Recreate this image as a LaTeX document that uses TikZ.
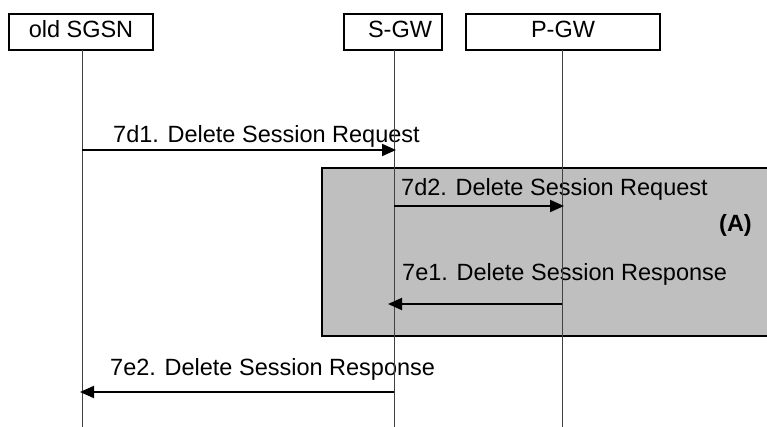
\documentclass[tikz,border=0pt]{standalone}
\usepackage{fontspec}
\setmainfont{Liberation Sans}
\usetikzlibrary{arrows.meta}
\begin{document}
\begin{tikzpicture}[x=1pt,y=-1pt,
  every node/.style={font=\fontsize{23.5}{28}\selectfont, inner sep=0pt},
  entity/.style={draw, line width=1.5pt, minimum height=36pt},
  lifeline/.style={line width=1pt, draw=black!75},
  msg/.style={line width=2pt, -{Triangle[length=14pt,width=12pt]}},
  lbl/.style={anchor=base west},
  region/.style={draw, line width=1.5pt, fill=black!25}]
\useasboundingbox (0,0) rectangle (767,427);
% shaded region (A)
\path[region] (322,168) rectangle (780,336);
% entities
\node[entity, minimum width=144pt] (sgsn) at (81,32) {\strut old SGSN};
\node[entity, minimum width=98pt] (sgw) at (393,32) {\strut\hspace*{14pt}S-GW};
\node[entity, minimum width=194pt] (pgw) at (563,32) {\strut P-GW};
% labels
\node[lbl] (l1) at (113,143) {7d1. Delete Session Request};
\node[lbl] (l2) at (401,196) {7d2. Delete Session Request};
\node[anchor=base east, font=\fontsize{23.5}{28}\selectfont\bfseries] (la) at (752,232) {(A)};
\node[lbl] (l3) at (402,280) {7e1. Delete Session Response};
\node[lbl] (l4) at (110,375) {7e2. Delete Session Response};
% lifeline coordinates
\coordinate (sgsnEnd) at (82,427);
\coordinate (sgwEnd) at (394,427);
\coordinate (pgwEnd) at (562,427);
\coordinate (sgsnTop) at (82,50);
\coordinate (sgwTop) at (394,50);
\coordinate (pgwTop) at (562,50);
\draw[lifeline] (sgsnTop) -- (sgsnEnd);
\draw[lifeline] (sgwTop) -- (sgwEnd);
\draw[lifeline] (pgwTop) -- (pgwEnd);
% message points
\coordinate (m1a) at (82,150);  \coordinate (m1b) at (396,150);
\coordinate (m2a) at (394,206); \coordinate (m2b) at (564,206);
\coordinate (m3a) at (562,304); \coordinate (m3b) at (388,304);
\coordinate (m4a) at (394,392); \coordinate (m4b) at (80,392);
\draw[msg] (m1a) -- (m1b);
\draw[msg] (m2a) -- (m2b);
\draw[msg] (m3a) -- (m3b);
\draw[msg] (m4a) -- (m4b);
\end{tikzpicture}
\end{document}
